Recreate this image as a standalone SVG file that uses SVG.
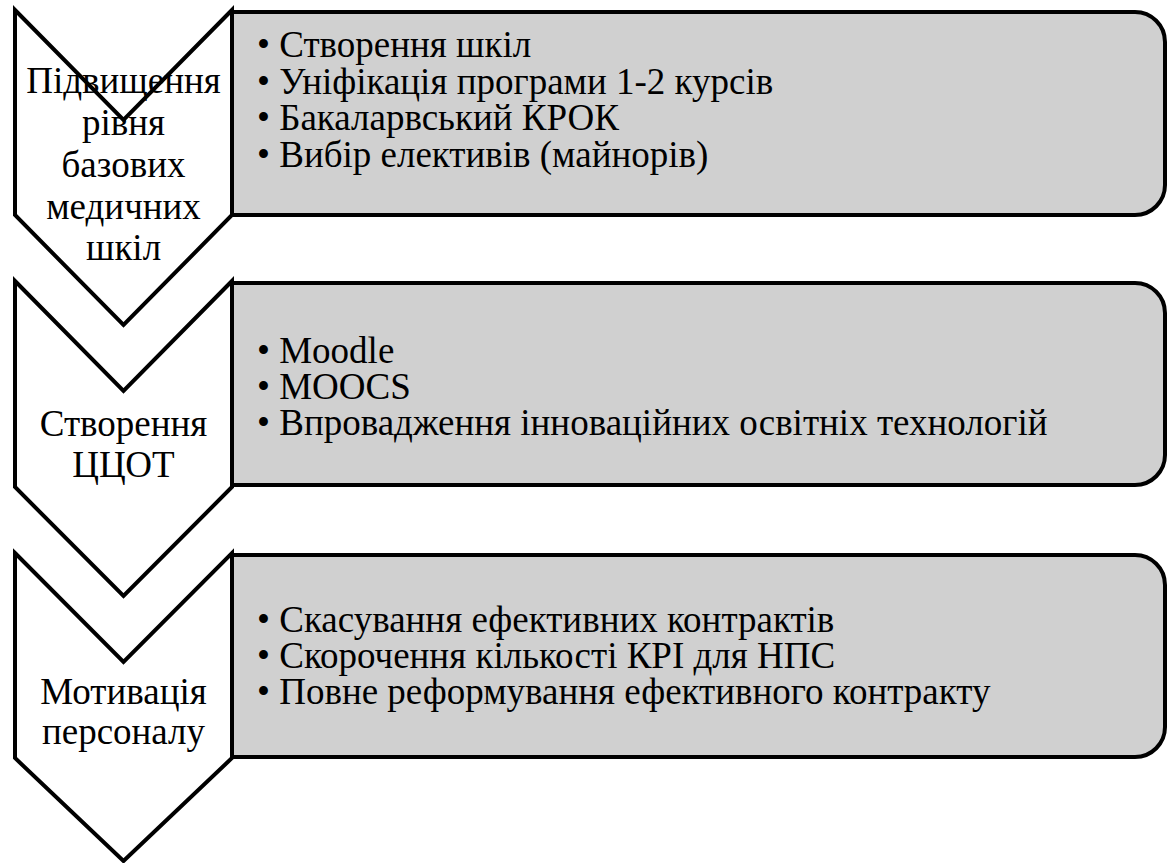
<svg xmlns="http://www.w3.org/2000/svg" width="1173" height="863" viewBox="0 0 1173 863">
<style>
.chev{fill:#ffffff;stroke:#000000;stroke-width:4;stroke-linejoin:miter}
.box{fill:#d0d0d0;stroke:#000000;stroke-width:4;stroke-linejoin:round}
text{font-family:'Liberation Serif','Times New Roman',serif;fill:#000}
.lbl{font-size:37px;text-anchor:middle}
.item{font-size:37px}
</style>
<rect width="1173" height="863" fill="#ffffff"/>
<g id="stage1">
<path class="chev" d="M15,10 L123.5,120 L232,10 V215 L123.5,325 L15,215 Z"/>
<path class="box" d="M232,12 H1135 A30,30 0 0 1 1165,42 V185 A30,30 0 0 1 1135,215 H232 Z"/>
<text class="lbl" x="123.5" y="93">Підвищення</text>
<text class="lbl" x="123.5" y="135">рівня</text>
<text class="lbl" x="123.5" y="177">базових</text>
<text class="lbl" x="123.5" y="219">медичних</text>
<text class="lbl" x="123.5" y="260">шкіл</text>
<text class="item" x="257" y="57">• Створення шкіл</text>
<text class="item" x="257" y="93.5">• Уніфікація програми 1-2 курсів</text>
<text class="item" x="257" y="130">• Бакаларвський КРОК</text>
<text class="item" x="257" y="166.5">• Вибір елективів (майнорів)</text>
</g>
<g id="stage2">
<path class="chev" d="M15,281 L123.5,391 L232,281 V487 L123.5,596 L15,487 Z"/>
<path class="box" d="M232,283 H1135 A30,30 0 0 1 1165,313 V455 A30,30 0 0 1 1135,485 H232 Z"/>
<text class="lbl" x="123.5" y="436">Створення</text>
<text class="lbl" x="123.5" y="477">ЦЦОТ</text>
<text class="item" x="257" y="363">• Moodle</text>
<text class="item" x="257" y="399">• MOOCS</text>
<text class="item" x="257" y="435">• Впровадження інноваційних освітніх технологій</text>
</g>
<g id="stage3">
<path class="chev" d="M15,553 L123.5,662 L232,553 V758 L123.5,861 L15,758 Z"/>
<path class="box" d="M232,555 H1135 A30,30 0 0 1 1165,585 V727 A30,30 0 0 1 1135,757 H232 Z"/>
<text class="lbl" x="123.5" y="704">Мотивація</text>
<text class="lbl" x="123.5" y="744">персоналу</text>
<text class="item" x="257" y="632">• Скасування ефективних контрактів</text>
<text class="item" x="257" y="668">• Скорочення кількості КРІ для НПС</text>
<text class="item" x="257" y="704">• Повне реформування ефективного контракту</text>
</g>
<g id="connectors"></g>
</svg>
